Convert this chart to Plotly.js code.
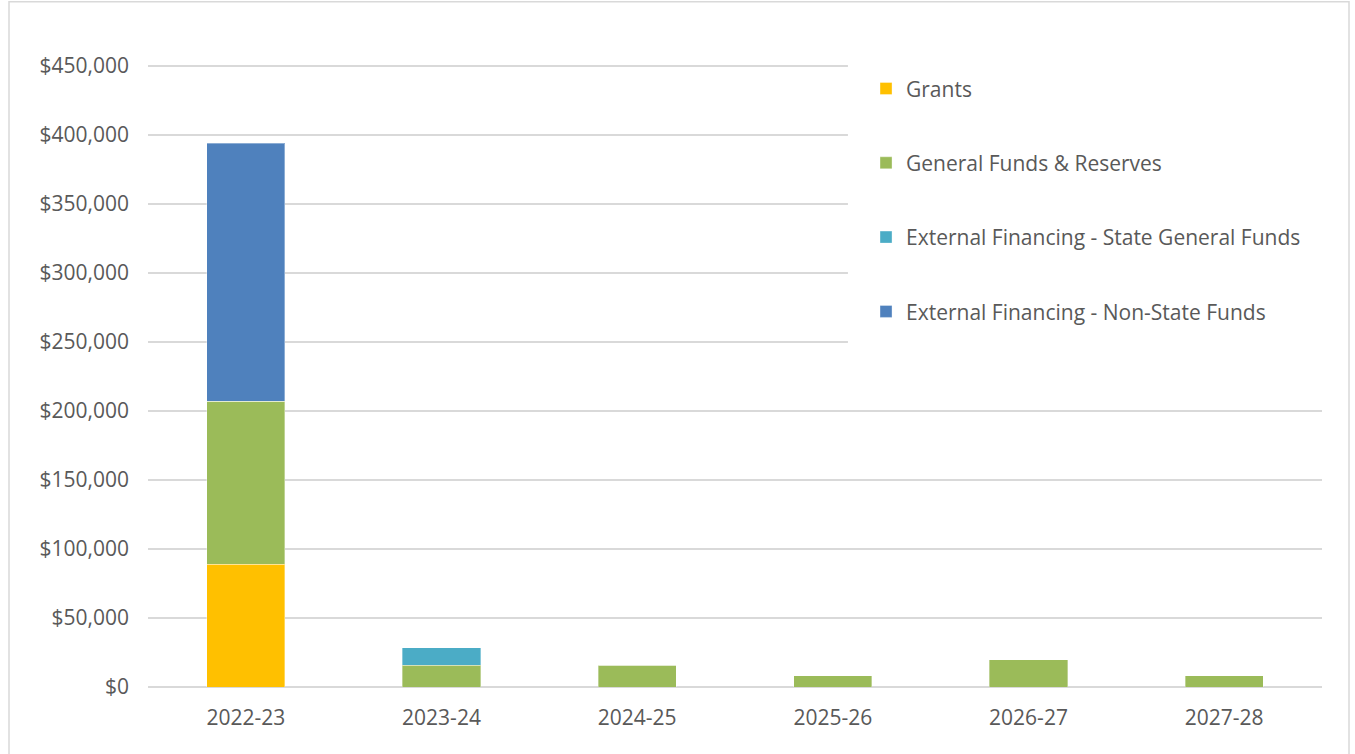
<!DOCTYPE html>
<html>
<head>
<meta charset="utf-8">
<script src="https://cdn.plot.ly/plotly-3.0.1.min.js"></script>
<style>
  html, body { margin: 0; padding: 0; background: #ffffff; }
  #chart { width: 1355px; height: 754px; }
</style>
</head>
<body>
<div id="chart"></div>
<script>
const categories = ["2022-23", "2023-24", "2024-25", "2025-26", "2026-27", "2027-28"];
const grants = [89000, 0, 0, 0, 0, 0];
const generalFunds = [118000, 15700, 15900, 8000, 19600, 8000];
const stateGeneral = [0, 12600, 0, 0, 0, 0];
const nonState = [187000, 0, 0, 0, 0, 0];
const seriesNames = ["Grants", "General Funds & Reserves", "External Financing - State General Funds", "External Financing - Non-State Funds"];
const yTicks = [0, 50000, 100000, 150000, 200000, 250000, 300000, 350000, 400000, 450000];

const colors = ["#FFC000", "#9BBB59", "#4BACC6", "#4F81BD"];
const values = [grants, generalFunds, stateGeneral, nonState];
const FONT = "Open Sans, Noto Sans, sans-serif";

const traces = values.map((v, i) => ({
  type: "bar",
  name: seriesNames[i],
  x: categories,
  y: v,
  legendgroup: "g" + i,
  marker: { color: colors[i], line: { color: "rgba(255,255,255,0.35)", width: 1 } },
  hoverinfo: "skip"
}));

const layout = {
  width: 1355,
  height: 754,
  paper_bgcolor: "#ffffff",
  plot_bgcolor: "#ffffff",
  barmode: "stack",
  bargap: 0.6,
  margin: { l: 148, r: 33, t: 64, b: 67 },
  font: { family: FONT, size: 21, color: "#595959" },
  showlegend: true,
  legend: {
    x: 0.6116, xanchor: "left",
    y: 0.993, yanchor: "top",
    traceorder: "grouped",
    tracegroupgap: 44,
    bgcolor: "rgba(0,0,0,0)",
    font: { family: FONT, size: 21, color: "#595959" }
  },
  xaxis: {
    type: "category",
    showgrid: false,
    showline: false,
    zeroline: false,
    ticks: "",
    tickfont: { family: FONT, size: 21, color: "#595959" },
    ticklabelstandoff: 16
  },
  yaxis: {
    range: [0, 451300],
    tickmode: "array",
    tickvals: yTicks,
    ticktext: yTicks.map(v => "$" + v.toLocaleString("en-US")),
    showgrid: true,
    gridcolor: "#d9d9d9",
    gridwidth: 1.5,
    zeroline: true,
    zerolinecolor: "#d9d9d9",
    zerolinewidth: 1.5,
    showline: false,
    ticks: "",
    tickfont: { family: FONT, size: 21, color: "#595959" },
    ticklabelstandoff: 18
  },
  shapes: [
    {
      type: "rect", xref: "paper", yref: "paper",
      x0: 0.5962, x1: 1.005, y0: 0.51, y1: 1.02,
      fillcolor: "#ffffff", line: { width: 0 }, layer: "above"
    },
    {
      type: "rect", xref: "paper", yref: "paper",
      x0: -0.1184, x1: 1.023, y0: -0.2, y1: 1.1,
      fillcolor: "rgba(0,0,0,0)", line: { color: "#d9d9d9", width: 1.5 }, layer: "below"
    }
  ]
};

Plotly.newPlot("chart", traces, layout, { staticPlot: true, displayModeBar: false });
</script>
</body>
</html>
